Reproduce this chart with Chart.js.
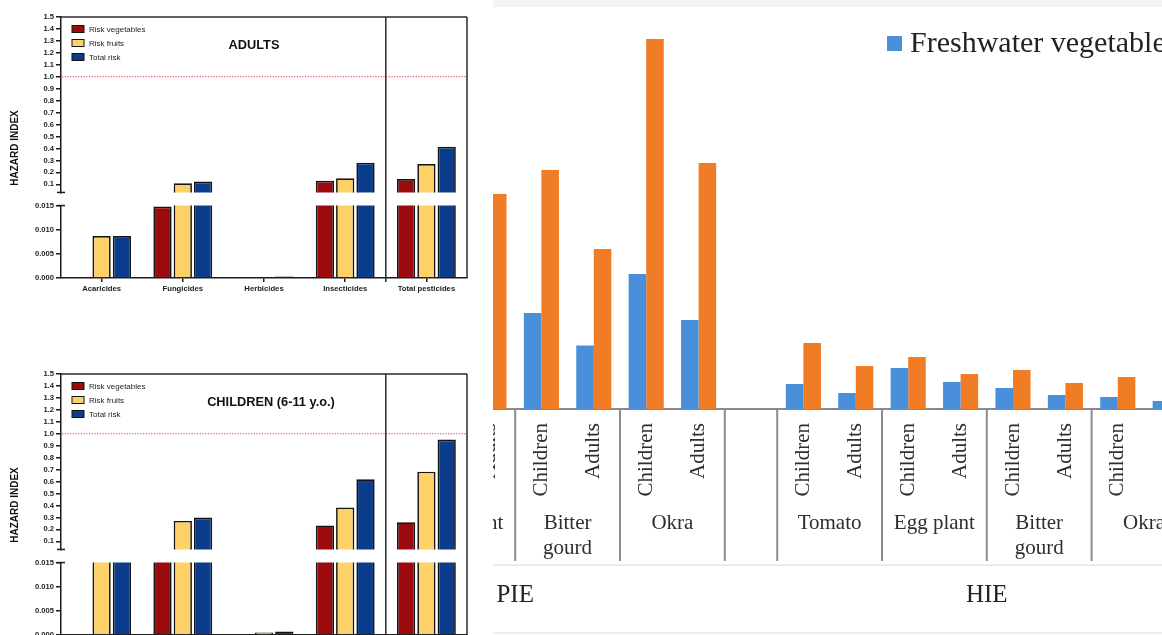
<!DOCTYPE html>
<html>
<head>
<meta charset="utf-8">
<script src="https://cdn.jsdelivr.net/npm/chart.js@4/dist/chart.umd.min.js"></script>
<style>
  html, body { margin: 0; padding: 0; background: #fff; width: 1162px; height: 635px; overflow: hidden; }
  canvas { position: absolute; display: block; }
  #right { position: absolute; left: 493px; top: 0; width: 669px; height: 635px; overflow: hidden; background: #fff; }
</style>
</head>
<body>
<canvas id="aHi" width="470" height="199" style="left:0;top:0"></canvas>
<canvas id="aLo" width="470" height="101" style="left:0;top:199px"></canvas>
<canvas id="cHi" width="470" height="199" style="left:0;top:357px"></canvas>
<canvas id="cLo" width="470" height="101" style="left:0;top:556px"></canvas>
<div id="right"><canvas id="rC" width="940" height="635" style="left:-213px;top:0"></canvas></div>
<script>
// ---------- Left panels: hazard index by pesticide class ----------
const pesticideClasses = ["Acaricides", "Fungicides", "Herbicides", "Insecticides", "Total pesticides"];
const riskSeries = ["Risk vegetables", "Risk fruits", "Total risk"];

const adultsVeg    = [0,      0.0148, 0,      0.130, 0.144];
const adultsFruits = [0.0087, 0.108,  0.0002, 0.150, 0.270];
const adultsTotal  = [0.0087, 0.123,  0.0003, 0.280, 0.414];

const childrenVeg    = [0,     0.027, 0,      0.233, 0.260];
const childrenFruits = [0.022, 0.271, 0.0005, 0.382, 0.683];
const childrenTotal  = [0.022, 0.299, 0.0007, 0.619, 0.951];

const upperTicks = [0.1, 0.2, 0.3, 0.4, 0.5, 0.6, 0.7, 0.8, 0.9, 1.0, 1.1, 1.2, 1.3, 1.4, 1.5];
const lowerTicks = [0.000, 0.005, 0.010, 0.015];
const hazardThreshold = 1.0;

// ---------- Right panel: PIE / HIE ----------
const sections = ["PIE", "HIE"];
const crops = ["Tomato", "Egg plant", "Bitter gourd", "Okra"];
const ageGroups = ["Children", "Adults"];
const rightSeries = ["Freshwater vegetables", "Wastewater vegetables"];
// order: PIE (Tomato C/A, Egg plant C/A, Bitter gourd C/A, Okra C/A), gap, HIE (same)
const freshwater = [null, null, null, null, 0.48, 0.317, 0.675, 0.445, null, 0.125, 0.08, 0.205, 0.135, 0.105, 0.07, 0.06, 0.04];
const wastewater = [null, null, null, 1.075, 1.195, 0.80, 1.85, 1.23, null, 0.33, 0.215, 0.26, 0.175, 0.195, 0.13, 0.16, null];

const SANS = '"Liberation Sans", Arial, sans-serif';
const SERIF = '"Liberation Serif", "Times New Roman", serif';
const riskColors = ["#9b0b0d", "#fdd068", "#0b3d8c"];
const INK = "#1c1c1c";

function riskDatasets(vals) {
  return riskSeries.map((name, i) => ({
    label: name,
    data: vals[i],
    backgroundColor: riskColors[i],
    borderColor: "#151515",
    borderWidth: 1.7,
    borderSkipped: "start",
    categoryPercentage: 0.75,
    barPercentage: 0.9,
    clip: 0
  }));
}

function yAxis(min, max, ticks, decimals) {
  return {
    min: min, max: max,
    afterBuildTicks: s => { s.ticks = ticks.map(v => ({ value: v })); },
    afterFit: s => { s.width = 61; },
    ticks: {
      callback: v => Number(v).toFixed(decimals),
      font: { family: SANS, size: 7.6, weight: "bold" },
      color: INK, padding: 2, autoSkip: false
    },
    grid: { drawOnChartArea: false, drawTicks: true, tickLength: 5, color: INK, lineWidth: 1.5 },
    border: { display: true, color: INK, width: 1.5 }
  };
}

function strokeLine(ctx, x1, y1, x2, y2) {
  ctx.beginPath(); ctx.moveTo(x1, y1); ctx.lineTo(x2, y2); ctx.stroke();
}

const leftDecor = {
  id: "leftDecor",
  afterDraw(chart, args, o) {
    const { ctx, chartArea: a } = chart;
    const x = chart.scales.x, y = chart.scales.y;
    const divX = (x.getPixelForValue(3) + x.getPixelForValue(4)) / 2;
    ctx.save();
    ctx.strokeStyle = "#2a2a2a";
    ctx.lineWidth = 1.5;
    if (o.part === "upper") {
      strokeLine(ctx, a.left, a.top, a.right, a.top);
      strokeLine(ctx, a.right, a.top, a.right, chart.height);
      strokeLine(ctx, divX, a.top, divX, chart.height);
      ctx.strokeStyle = INK;
      strokeLine(ctx, a.left - 4, a.bottom, a.left + 4, a.bottom);
      // threshold line
      const ty = y.getPixelForValue(hazardThreshold);
      ctx.strokeStyle = "#e2343c";
      ctx.lineWidth = 1.1;
      ctx.setLineDash([1.2, 1.5]);
      strokeLine(ctx, a.left + 1, ty, a.right - 1, ty);
      ctx.setLineDash([]);
      // title
      ctx.fillStyle = "#111";
      ctx.font = "bold 12.8px " + SANS;
      ctx.textAlign = "center";
      ctx.textBaseline = "middle";
      ctx.fillText(o.title, o.titleX, 45);
      // legend
      ctx.textAlign = "left";
      ctx.font = "8px " + SANS;
      chart.data.datasets.forEach((ds, i) => {
        const cy = 29 + i * 14;
        ctx.fillStyle = ds.backgroundColor;
        ctx.fillRect(72, cy - 3.5, 12, 7);
        ctx.strokeStyle = "#151515";
        ctx.lineWidth = 1;
        ctx.strokeRect(72, cy - 3.5, 12, 7);
        ctx.fillStyle = "#222";
        ctx.fillText(ds.label, 89, cy + 0.5);
      });
      // axis title
      ctx.save();
      ctx.translate(15, 148);
      ctx.rotate(-Math.PI / 2);
      ctx.font = "bold 10px " + SANS;
      ctx.fillStyle = "#111";
      ctx.textAlign = "center";
      ctx.fillText("HAZARD INDEX", 0, 0);
      ctx.restore();
    } else {
      strokeLine(ctx, a.right, 0, a.right, a.bottom);
      strokeLine(ctx, divX, 0, divX, a.bottom + 4);
      ctx.strokeStyle = INK;
      strokeLine(ctx, a.left - 4, a.top, a.left + 4, a.top);
    }
    ctx.restore();
  }
};

function upperChart(id, vals, title, titleX) {
  return new Chart(document.getElementById(id), {
    type: "bar",
    data: { labels: pesticideClasses, datasets: riskDatasets(vals) },
    options: {
      responsive: false, animation: false,
      layout: { padding: { left: 0, right: 3, top: 17, bottom: 4 } },
      plugins: { legend: { display: false }, tooltip: { enabled: false },
                 leftDecor: { part: "upper", title: title, titleX: titleX } },
      scales: { x: { display: false }, y: yAxis(0.032, 1.5, upperTicks, 1) }
    },
    plugins: [leftDecor]
  });
}

function lowerChart(id, vals) {
  return new Chart(document.getElementById(id), {
    type: "bar",
    data: { labels: pesticideClasses, datasets: riskDatasets(vals) },
    options: {
      responsive: false, animation: false,
      layout: { padding: { left: 0, right: 3, top: 5, bottom: 0 } },
      plugins: { legend: { display: false }, tooltip: { enabled: false }, leftDecor: { part: "lower" } },
      scales: {
        x: {
          afterFit: s => { s.height = 22; },
          ticks: { font: { family: SANS, size: 7.7, weight: "bold" }, color: INK, padding: 2, maxRotation: 0, autoSkip: false },
          grid: { drawOnChartArea: false, drawTicks: true, tickLength: 4, color: INK, lineWidth: 1.5, offset: false },
          border: { display: true, color: INK, width: 1.5 }
        },
        y: yAxis(0, 0.015, lowerTicks, 3)
      }
    },
    plugins: [leftDecor]
  });
}

upperChart("aHi", [adultsVeg, adultsFruits, adultsTotal], "ADULTS", 254);
lowerChart("aLo", [adultsVeg, adultsFruits, adultsTotal]);
upperChart("cHi", [childrenVeg, childrenFruits, childrenTotal], "CHILDREN (6-11 y.o.)", 271);
lowerChart("cLo", [childrenVeg, childrenFruits, childrenTotal]);

// ---------- right chart ----------
const rightLabels = [];
const sectionStart = [];
sections.forEach((s, si) => {
  if (si > 0) rightLabels.push("");
  sectionStart.push(rightLabels.length);
  crops.forEach(() => ageGroups.forEach(g => rightLabels.push(g)));
});

const rightDecor = {
  id: "rightDecor",
  beforeDraw(chart) {
    const ctx = chart.ctx;
    ctx.save();
    ctx.fillStyle = "#f4f4f4";
    ctx.fillRect(0, 0, chart.width, 7);
    ctx.restore();
  },
  afterDraw(chart, args, o) {
    const { ctx, chartArea: a } = chart;
    const x = chart.scales.x;
    const step = x.getPixelForValue(1) - x.getPixelForValue(0);
    const base = a.bottom;
    ctx.save();
    // separators
    ctx.strokeStyle = "#8c8c8c";
    ctx.lineWidth = 2;
    sectionStart.forEach(s0 => {
      for (let k = 0; k <= crops.length; k++) {
        const bx = x.getPixelForValue(s0 + k * ageGroups.length) - step / 2;
        strokeLine(ctx, bx, base, bx, base + 152);
      }
    });
    // faint table lines
    ctx.strokeStyle = "#ececec";
    ctx.lineWidth = 2;
    strokeLine(ctx, 0, base + 156, chart.width, base + 156);
    strokeLine(ctx, 0, base + 224, chart.width, base + 224);
    // crop labels
    ctx.fillStyle = "#2e2e2e";
    ctx.font = "21px " + SERIF;
    ctx.textAlign = "center";
    ctx.textBaseline = "middle";
    sectionStart.forEach(s0 => {
      crops.forEach((c, k) => {
        const i0 = s0 + k * ageGroups.length;
        const cx = (x.getPixelForValue(i0) + x.getPixelForValue(i0 + ageGroups.length - 1)) / 2;
        const words = c === "Bitter gourd" ? ["Bitter", "gourd"] : [c];
        words.forEach((w, li) => ctx.fillText(w, cx, base + 114 + li * 25));
      });
    });
    // section labels
    ctx.fillStyle = "#222";
    ctx.font = "25px " + SERIF;
    sections.forEach((s, si) => {
      const s0 = sectionStart[si];
      const cx = (x.getPixelForValue(s0) + x.getPixelForValue(s0 + crops.length * ageGroups.length - 1)) / 2;
      ctx.fillText(s, cx, base + 186);
    });
    // legend
    ctx.font = "30px " + SERIF;
    ctx.textAlign = "left";
    ctx.textBaseline = "alphabetic";
    let lx = o.legendX;
    chart.data.datasets.forEach(ds => {
      ctx.fillStyle = ds.backgroundColor;
      ctx.fillRect(lx, 36, 15, 15);
      ctx.fillStyle = "#222";
      ctx.fillText(ds.label, lx + 23, 52);
      lx += 23 + ctx.measureText(ds.label).width + 30;
    });
    ctx.restore();
  }
};

new Chart(document.getElementById("rC"), {
  type: "bar",
  data: {
    labels: rightLabels,
    datasets: [
      { label: rightSeries[0], data: freshwater, backgroundColor: "#4a8fd9", borderWidth: 0, categoryPercentage: 0.67, barPercentage: 1.0 },
      { label: rightSeries[1], data: wastewater, backgroundColor: "#f07c26", borderWidth: 0, categoryPercentage: 0.67, barPercentage: 1.0 }
    ]
  },
  options: {
    responsive: false, animation: false,
    layout: { padding: { left: 25.6, right: 23.6, top: 9, bottom: 0 } },
    plugins: { legend: { display: false }, tooltip: { enabled: false }, rightDecor: { legendX: 607 } },
    scales: {
      x: {
        afterFit: s => { s.height = 226; },
        ticks: { minRotation: 90, maxRotation: 90, autoSkip: false, font: { family: SERIF, size: 21 }, color: "#2e2e2e", padding: 6 },
        grid: { display: false },
        border: { display: true, color: "#8a8a8a", width: 2 }
      },
      y: { display: false, min: 0, max: 2.0 }
    }
  },
  plugins: [rightDecor]
});
</script>
</body>
</html>
